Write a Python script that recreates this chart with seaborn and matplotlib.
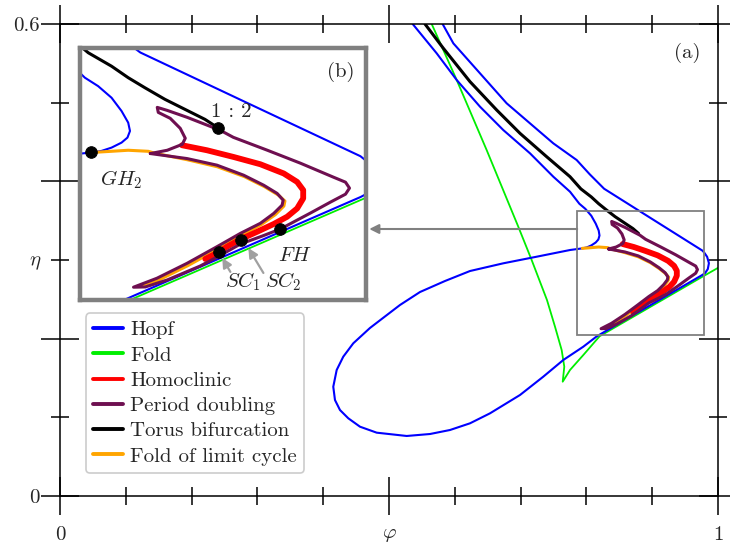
"""Two-parameter bifurcation diagram in (phi, eta) with a zoomed inset."""

import matplotlib
matplotlib.use("Agg")
import matplotlib.pyplot as plt
from matplotlib.lines import Line2D
from matplotlib.patches import Rectangle
import seaborn as sns

# ---- curve data (phi, eta) ----
HOPF_X = [0.536, 0.5725, 0.6029, 0.6383, 0.6737, 0.7143, 0.7497, 0.7751,
          0.7893, 0.7983, 0.8074, 0.8142, 0.8187, 0.8199, 0.8182, 0.8142,
          0.8074, 0.8006, 0.7938, 0.7751, 0.7245, 0.6737, 0.6231, 0.5851,
          0.5471, 0.5167, 0.4909, 0.4711, 0.4457, 0.4305, 0.4205, 0.4153,
          0.4179, 0.4255, 0.4381, 0.4559, 0.4813, 0.5269, 0.5623, 0.5927,
          0.6231, 0.6535, 0.6991, 0.7345, 0.7649, 0.7953, 0.8160, 0.9762,
          0.9805, 0.9845, 0.9862, 0.9835, 0.9790, 0.9762, 0.8948, 0.8269,
          0.8050, 0.7852, 0.7497, 0.7143, 0.6788, 0.6383, 0.5978, 0.5815]
HOPF_Y = [0.600, 0.5627, 0.5288, 0.4949, 0.4652, 0.4356, 0.4059, 0.3868,
          0.3715, 0.3651, 0.3563, 0.3462, 0.3374, 0.3311, 0.3261, 0.3223,
          0.3185, 0.3160, 0.3148, 0.3127, 0.3042, 0.2958, 0.2860, 0.2733,
          0.2593, 0.2428, 0.2263, 0.2136, 0.1941, 0.1771, 0.1602, 0.1389,
          0.1220, 0.1093, 0.0988, 0.0881, 0.0805, 0.0763, 0.0788, 0.0839,
          0.0924, 0.1051, 0.1284, 0.1517, 0.1729, 0.1898, 0.2031, 0.2810,
          0.2835, 0.2885, 0.2960, 0.3040, 0.3095, 0.3120, 0.3548, 0.3906,
          0.4090, 0.4271, 0.4483, 0.4737, 0.4992, 0.5373, 0.5754, 0.600]

FOLD_X = [0.5649, 0.6029, 0.6484, 0.6965, 0.7168, 0.7401, 0.7523, 0.7624,
          0.7664, 0.7640, 0.7751, 0.7953, 0.8201, 0.9762, 1.0]
FOLD_Y = [0.600, 0.5288, 0.4398, 0.3423, 0.3000, 0.2491, 0.2152, 0.1856,
          0.1644, 0.1453, 0.1602, 0.1792, 0.2031, 0.2787, 0.2900]

TORUS_X = [0.5547, 0.5826, 0.6231, 0.6636, 0.6991, 0.7396, 0.7751, 0.7916,
           0.8074, 0.8187, 0.8300, 0.8436, 0.8572, 0.8708, 0.8793]
TORUS_Y = [0.600, 0.5691, 0.5267, 0.4907, 0.4610, 0.4313, 0.4059, 0.3904,
           0.3802, 0.3715, 0.3639, 0.3551, 0.3475, 0.3399, 0.3337]

PD_X = [0.8337, 0.8586, 0.8789, 0.8970, 0.9106, 0.9197, 0.9238, 0.9231,
        0.9174, 0.9083, 0.8948, 0.8789, 0.8586, 0.8382, 0.8223, 0.8303,
        0.8452, 0.8676, 0.8791, 0.8948, 0.9097, 0.9219, 0.9423, 0.9559,
        0.9661, 0.9688, 0.9661, 0.9579, 0.9355, 0.9131, 0.8900, 0.8812,
        0.8588, 0.8452, 0.8384, 0.8391, 0.8472, 0.8540, 0.8574, 0.8554,
        0.8452, 0.8337]
PD_Y = [0.3140, 0.3102, 0.3052, 0.2976, 0.2900, 0.2838, 0.2787, 0.2749,
        0.2686, 0.2611, 0.2535, 0.2434, 0.2308, 0.2195, 0.2127, 0.2129,
        0.2182, 0.2288, 0.2356, 0.2454, 0.2515, 0.2568, 0.2689, 0.2772,
        0.2832, 0.2878, 0.2923, 0.2961, 0.3067, 0.3165, 0.3263, 0.3316,
        0.3414, 0.3467, 0.3490, 0.3452, 0.3407, 0.3331, 0.3256, 0.3210,
        0.3165, 0.3140]

LPC_X = [0.7938, 0.8072, 0.8187, 0.8323, 0.8370, 0.8588, 0.8791, 0.8975,
         0.9111, 0.9206, 0.9250, 0.9243, 0.9185, 0.9090, 0.8954, 0.8795,
         0.8591, 0.8384, 0.8289]
LPC_Y = [0.3148, 0.3157, 0.3165, 0.3157, 0.3142, 0.3093, 0.3040, 0.2965,
         0.2889, 0.2825, 0.2780, 0.2742, 0.2677, 0.2602, 0.2520, 0.2416,
         0.2290, 0.2176, 0.2142]

HOM_X = [0.8552, 0.8721, 0.8902, 0.9083, 0.9242, 0.9333, 0.9374, 0.9374,
         0.9333, 0.9265, 0.9174, 0.9061, 0.8948, 0.8857, 0.8800, 0.8710]
HOM_Y = [0.3203, 0.3165, 0.3114, 0.3059, 0.2989, 0.2925, 0.2863, 0.2800,
         0.2724, 0.2661, 0.2606, 0.2547, 0.2490, 0.2434, 0.2392, 0.2341]

# codimension-two points shown in the inset
POINT_NAMES = ["GH2", "1:2", "SC1", "SC2", "FH"]
POINT_X = [0.7938, 0.8793, 0.8800, 0.8954, 0.9219]
POINT_Y = [0.3148, 0.3337, 0.2392, 0.2485, 0.2568]

LEGEND_LABELS = ["Hopf", "Fold", "Homoclinic", "Period doubling",
                 "Torus bifurcation", "Fold of limit cycle"]

BLUE = "#0000ff"
GREEN = "#00ee00"
RED = "#ff0000"
PURPLE = "#6e0f50"
BLACK = "#000000"
ORANGE = "#ffa500"
GREY = "#808080"

sns.set_style("white")
plt.rcParams["font.family"] = ["cmr10", "DejaVu Serif"]
plt.rcParams["mathtext.fontset"] = "cm"
plt.rcParams["axes.formatter.use_mathtext"] = True


def draw_curves(ax):
    curves = [
        (FOLD_X, FOLD_Y, GREEN, 1.3),
        (HOPF_X, HOPF_Y, BLUE, 1.5),
        (TORUS_X, TORUS_Y, BLACK, 2.2),
        (LPC_X, LPC_Y, ORANGE, 2.2),
        (HOM_X, HOM_Y, RED, 4.2),
        (PD_X, PD_Y, PURPLE, 2.2),
    ]
    for xs, ys, color, lw in curves:
        sns.lineplot(x=xs, y=ys, sort=False, estimator=None, color=color,
                     lw=lw, ax=ax, legend=False)


fig = plt.figure(figsize=(7.3, 5.5), dpi=100)
ax = fig.add_axes([60 / 730, 54 / 550, 658 / 730, 472 / 550])
draw_curves(ax)
ax.set_xlim(0, 1)
ax.set_ylim(0, 0.6)
ax.set_xlabel("")
ax.set_ylabel("")

ax.set_xticks([0, 0.5, 1])
ax.set_xticklabels(["0", r"$\varphi$", "1"])
ax.set_xticks([0.1, 0.2, 0.3, 0.4, 0.6, 0.7, 0.8, 0.9], minor=True)
ax.set_yticks([0, 0.2, 0.4, 0.6])
ax.set_yticklabels(["0", "", "", "0.6"])
ax.set_yticks([0.1, 0.3, 0.5], minor=True)
ax.set_yticklabels(["", r"$\eta$", ""], minor=True)
ax.tick_params(which="both", direction="inout", top=True, right=True,
               bottom=True, left=True, width=1.1, color="black", labelsize=15)
ax.tick_params(which="major", length=27)
ax.tick_params(which="minor", length=13)
ax.tick_params(axis="x", which="major", pad=8)
ax.tick_params(axis="y", which="major", pad=1)
ax.tick_params(axis="y", which="minor", pad=7)
for sp in ax.spines.values():
    sp.set_color("black")
    sp.set_linewidth(1.1)

# zoom box and arrow towards the inset
ax.add_patch(Rectangle((0.786, 0.205), 0.193, 0.157, fill=False,
                       edgecolor=GREY, lw=1.3, zorder=5))
ax.annotate("", xy=(0.470, 0.3394), xytext=(0.786, 0.3394),
            arrowprops=dict(arrowstyle="-|>", color=GREY, lw=1.5,
                            mutation_scale=14, shrinkA=0, shrinkB=0),
            zorder=5)
ax.text(0.954, 0.563, "(a)", fontsize=15, ha="center", va="center")

handles = [Line2D([], [], color=c, lw=2.8)
           for c in [BLUE, GREEN, RED, PURPLE, BLACK, ORANGE]]
leg = ax.legend(handles, LEGEND_LABELS, loc="lower left",
                bbox_to_anchor=(0.039, 0.049), borderaxespad=0, fontsize=15,
                handlelength=1.45, handletextpad=0.35, labelspacing=0.32,
                borderpad=0.35, frameon=True, fancybox=True, framealpha=1)
leg.get_frame().set_edgecolor("#cccccc")
leg.get_frame().set_linewidth(1.2)

# inset (b)
axin = fig.add_axes([80 / 730, 250 / 550, 286 / 730, 252 / 550])
draw_curves(axin)
axin.set_xlim(0.786, 0.980)
axin.set_ylim(0.203, 0.394)
axin.set_xticks([])
axin.set_yticks([])
axin.set_xlabel("")
axin.set_ylabel("")
for sp in axin.spines.values():
    sp.set_color(GREY)
    sp.set_linewidth(3.2)
sns.scatterplot(x=POINT_X, y=POINT_Y, color="black", s=70, edgecolor="black",
                zorder=10, ax=axin, legend=False)
axin.text(0.8887, 0.3452, "1 : 2", fontsize=15, ha="center", va="center")
axin.text(0.8140, 0.2938, r"$GH_2$", fontsize=15, ha="center", va="center")
axin.text(0.9321, 0.2364, r"$FH$", fontsize=15, ha="center", va="center")
axin.text(0.8968, 0.2167, r"$SC_1$", fontsize=15, ha="center", va="center")
axin.text(0.9240, 0.2167, r"$SC_2$", fontsize=15, ha="center", va="center")
axin.annotate("", xy=(0.8825, 0.2349), xytext=(0.8880, 0.2243),
              arrowprops=dict(arrowstyle="-|>", color="#a0a0a0", lw=1.6,
                              mutation_scale=14, shrinkA=0, shrinkB=0))
axin.annotate("", xy=(0.9002, 0.2424), xytext=(0.9104, 0.2235),
              arrowprops=dict(arrowstyle="-|>", color="#a0a0a0", lw=1.6,
                              mutation_scale=14, shrinkA=0, shrinkB=0))
axin.text(0.9627, 0.3755, "(b)", fontsize=15, ha="center", va="center")

fig.savefig("out.png", dpi=100)
